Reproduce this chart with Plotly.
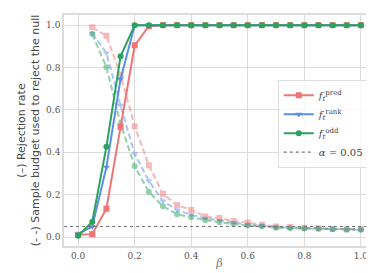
import plotly.graph_objects as go

beta = [0.0, 0.05, 0.1, 0.15, 0.2, 0.25, 0.3, 0.35, 0.4, 0.45, 0.5,
        0.55, 0.6, 0.65, 0.7, 0.75, 0.8, 0.85, 0.9, 0.95, 1.0]

# Rejection rate (solid)
rej_pred = [0.011, 0.014, 0.134, 0.52, 0.905, 0.995] + [1.0] * 15
rej_rank = [0.015, 0.05, 0.33, 0.745, 1.0, 1.0] + [1.0] * 15
rej_odd = [0.006, 0.073, 0.426, 0.853, 1.0, 1.0] + [1.0] * 15

# Sample budget used (dashed), starts at beta = 0.05
beta_b = beta[1:]
bud_pred = [0.99, 0.95, 0.765, 0.523, 0.339, 0.204, 0.151, 0.128, 0.097, 0.09,
            0.076, 0.069, 0.058, 0.05, 0.048, 0.044, 0.042, 0.039, 0.037, 0.037]
bud_rank = [0.962, 0.869, 0.622, 0.393, 0.265, 0.17, 0.128, 0.105, 0.089, 0.078,
            0.066, 0.058, 0.053, 0.047, 0.044, 0.041, 0.039, 0.036, 0.034, 0.034]
bud_odd = [0.958, 0.802, 0.535, 0.334, 0.214, 0.145, 0.108, 0.094, 0.08, 0.07,
           0.061, 0.055, 0.05, 0.044, 0.042, 0.041, 0.039, 0.037, 0.036, 0.036]

ALPHA = 0.05

names = ["<i>f</i><sub><i>t</i></sub><sup>pred</sup>",
         "<i>f</i><sub><i>t</i></sub><sup>rank</sup>",
         "<i>f</i><sub><i>t</i></sub><sup>odd</sup>"]
colors = ["#f07476", "#5a8ee8", "#2ca25f"]
symbols = ["square", "triangle-down", "circle"]
rej = [rej_pred, rej_rank, rej_odd]
bud = [bud_pred, bud_rank, bud_odd]

fig = go.Figure()
for i in range(3):
    fig.add_trace(go.Scatter(
        x=beta_b, y=bud[i], mode="lines+markers", showlegend=False,
        opacity=0.5,
        line=dict(color=colors[i], width=2, dash="6px,3px"),
        marker=dict(symbol=symbols[i], size=6, color=colors[i]),
    ))
for i in range(3):
    fig.add_trace(go.Scatter(
        x=beta, y=rej[i], mode="lines+markers", name=names[i],
        line=dict(color=colors[i], width=2),
        marker=dict(symbol=symbols[i], size=6, color=colors[i]),
    ))

fig.add_shape(type="line", xref="x domain", yref="y", x0=0, x1=1,
              y0=ALPHA, y1=ALPHA,
              line=dict(color="#777777", width=1.2, dash="dot"),
              showlegend=True, name="<i>α</i> = 0.05", layer="above")

fig.update_layout(
    width=374, height=273,
    margin=dict(l=56, r=6, t=5, b=35),
    paper_bgcolor="white", plot_bgcolor="white",
    font=dict(family="DejaVu Serif, serif", size=10, color="#555555"),
    legend=dict(x=0.98, y=0.72, xanchor="right", yanchor="top",
                bgcolor="rgba(255,255,255,0.8)", bordercolor="#dddddd",
                borderwidth=1, font=dict(size=10, family="DejaVu Serif", color="#444444"),
                itemwidth=30, tracegroupgap=0),
)
fig.update_xaxes(range=[-0.05, 1.05], tickvals=[0, 0.2, 0.4, 0.6, 0.8, 1.0],
                 ticktext=["0.0", "0.2", "0.4", "0.6", "0.8", "1.0"],
                 showgrid=True, gridcolor="#dcdcdc", gridwidth=1,
                 showline=True, mirror=True, linecolor="#dcdcdc", linewidth=1.5,
                 zeroline=False, ticks="", tickfont=dict(size=9, color="#555555"),
                 title=dict(text="<i>β</i>", standoff=0,
                            font=dict(size=11, family="DejaVu Serif", color="#777777")))
fig.update_yaxes(range=[-0.042, 1.048], tickvals=[0, 0.2, 0.4, 0.6, 0.8, 1.0],
                 ticktext=["0.0", "0.2", "0.4", "0.6", "0.8", "1.0"],
                 showgrid=True, gridcolor="#dcdcdc", gridwidth=1,
                 showline=True, mirror=True, linecolor="#dcdcdc", linewidth=1.5,
                 zeroline=False, ticks="", tickfont=dict(size=9, color="#555555"),
                 title=dict(text="(–) Rejection rate<br>(- -) Sample budget used to reject the null",
                            standoff=4,
                            font=dict(size=11, family="DejaVu Sans", color="#444444")))

fig.write_html("out.html")
